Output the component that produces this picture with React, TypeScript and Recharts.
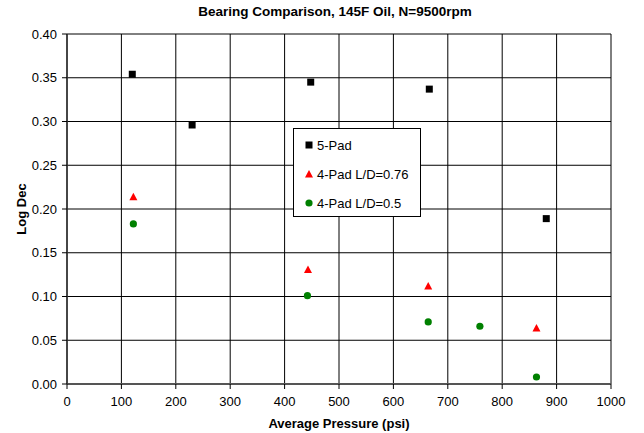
import React from 'react';
import { CartesianGrid, Legend, Scatter, ScatterChart, XAxis, YAxis } from 'recharts';

const fivePadX = [120, 230, 448, 666, 881];
const fivePadY = [0.354, 0.296, 0.345, 0.337, 0.189];

const fourPad76X = [122, 443, 664, 863];
const fourPad76Y = [0.214, 0.131, 0.112, 0.064];

const fourPad50X = [122, 442, 664, 759, 863];
const fourPad50Y = [0.183, 0.101, 0.071, 0.066, 0.008];

const xTicks = [0, 100, 200, 300, 400, 500, 600, 700, 800, 900, 1000];
const yTicks = [0, 0.05, 0.1, 0.15, 0.2, 0.25, 0.3, 0.35, 0.4];

const toPoints = (xs: number[], ys: number[]) => xs.map((x, i) => ({ x, y: ys[i] }));

const seriesList = [
  { name: '5-Pad', data: toPoints(fivePadX, fivePadY), color: '#000000', kind: 'square' },
  { name: '4-Pad L/D=0.76', data: toPoints(fourPad76X, fourPad76Y), color: '#ff0000', kind: 'triangle' },
  { name: '4-Pad L/D=0.5', data: toPoints(fourPad50X, fourPad50Y), color: '#008000', kind: 'circle' },
];

const FONT = 'Arial, "Liberation Sans", sans-serif';

const Marker = ({ kind, color, cx, cy }: { kind: string; color: string; cx: number; cy: number }) => {
  if (kind === 'square') return <rect x={cx - 3.5} y={cy - 3.5} width={7} height={7} fill={color} />;
  if (kind === 'triangle')
    return <path d={`M${cx},${cy - 4} L${cx + 4},${cy + 3.5} L${cx - 4},${cy + 3.5} Z`} fill={color} />;
  return <circle cx={cx} cy={cy} r={3.6} fill={color} />;
};

const LegendBox = () => (
  <div
    style={{
      width: 126,
      height: 87,
      border: '1px solid #000',
      background: '#fff',
      fontFamily: FONT,
      fontSize: 13,
      color: '#000',
      position: 'relative',
    }}
  >
    {seriesList.map((s, i) => (
      <div key={s.name} style={{ position: 'absolute', left: 10, top: 7 + i * 29, height: 18, display: 'flex', alignItems: 'center' }}>
        <svg width={10} height={10} style={{ marginRight: 3 }}>
          <Marker kind={s.kind} color={s.color} cx={5} cy={5} />
        </svg>
        <span>{s.name}</span>
      </div>
    ))}
  </div>
);

const YTitle = (props: any) => {
  const vb = props.viewBox || { y: 34, height: 350 };
  const cx = 21;
  const cy = vb.y + vb.height / 2;
  return (
    <text x={cx} y={cy} transform={`rotate(-90 ${cx} ${cy})`} textAnchor="middle" dominantBaseline="central"
      fontFamily={FONT} fontSize={13} fontWeight="bold" fill="#000">
      Log Dec
    </text>
  );
};

export default function App() {
  return (
    <div style={{ position: 'absolute', left: 0, top: 0, width: 644, height: 433, background: '#fff' }}>
      <div
        style={{
          position: 'absolute', left: 63, width: 544, top: 3, textAlign: 'center',
          fontFamily: FONT, fontSize: 13.5, fontWeight: 'bold', lineHeight: '18px', color: '#000',
        }}
      >
        Bearing Comparison, 145F Oil, N=9500rpm
      </div>
      <ScatterChart width={644} height={433} margin={{ top: 34, right: 33, bottom: 0, left: 0 }}>
        <CartesianGrid stroke="#000" strokeWidth={1} />
        <XAxis
          type="number"
          dataKey="x"
          domain={[0, 1000]}
          ticks={xTicks}
          interval={0}
          height={49}
          tickSize={5}
          tickMargin={8}
          axisLine={{ stroke: '#555', strokeWidth: 2 }}
          tickLine={{ stroke: '#000' }}
          tick={{ fill: '#000', fontSize: 13, fontFamily: FONT }}
          label={{ value: 'Average Pressure (psi)', position: 'insideBottom', offset: 5, fill: '#000', fontSize: 13, fontWeight: 'bold', fontFamily: FONT }}
        />
        <YAxis
          type="number"
          dataKey="y"
          domain={[0, 0.4]}
          ticks={yTicks}
          interval={0}
          width={67}
          tickSize={5}
          tickMargin={5}
          tickFormatter={(v: number) => v.toFixed(2)}
          axisLine={{ stroke: '#333', strokeWidth: 1.5 }}
          tickLine={{ stroke: '#000' }}
          tick={{ fill: '#000', fontSize: 13, fontFamily: FONT }}
          label={<YTitle />}
        />
        {seriesList.map((s) => (
          <Scatter
            key={s.name}
            name={s.name}
            data={s.data}
            fill={s.color}
            isAnimationActive={false}
            shape={(p: any) => <Marker kind={s.kind} color={s.color} cx={p.cx} cy={p.cy} />}
          />
        ))}
        <Legend
          layout="vertical"
          align="center"
          verticalAlign="middle"
          wrapperStyle={{ left: 293, top: 128, width: 128 }}
          content={() => <LegendBox />}
        />
      </ScatterChart>
    </div>
  );
}
